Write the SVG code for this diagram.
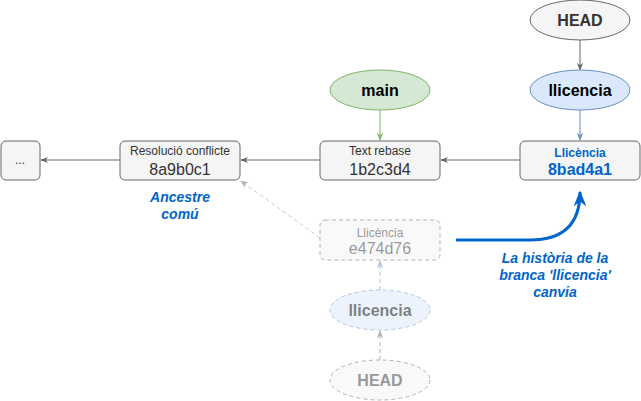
<svg xmlns="http://www.w3.org/2000/svg" width="641" height="401" viewBox="0 0 641 401">
<style>
text{font-family:"Liberation Sans",Arial,sans-serif;text-anchor:middle}
.box{fill:#f5f5f5;stroke:#666;stroke-width:1}
.s{font-size:12px;fill:#333}
.h{font-size:16px;fill:#333}
.b{font-size:16px;font-weight:bold}
.note{font-size:14px;font-weight:bold;font-style:italic;fill:#0066CC}
.c{fill:none;stroke-width:1}
.faded{opacity:0.5}
</style>
<defs>
<marker id="ag" viewBox="0 0 10 10" refX="9" refY="5" markerWidth="8" markerHeight="8" markerUnits="userSpaceOnUse" orient="auto"><path d="M0,1 L10,5 L0,9 L3,5 Z" fill="#666"/></marker>
<marker id="agr" viewBox="0 0 10 10" refX="9" refY="5" markerWidth="8" markerHeight="8" markerUnits="userSpaceOnUse" orient="auto"><path d="M0,1 L10,5 L0,9 L3,5 Z" fill="#82b366"/></marker>
<marker id="abl" viewBox="0 0 10 10" refX="9" refY="5" markerWidth="8" markerHeight="8" markerUnits="userSpaceOnUse" orient="auto"><path d="M0,1 L10,5 L0,9 L3,5 Z" fill="#6c8ebf"/></marker>
<marker id="abig" viewBox="0 0 10 10" refX="9" refY="5" markerWidth="16" markerHeight="16" markerUnits="userSpaceOnUse" orient="auto"><path d="M0,1 L10,5 L0,9 L3,5 Z" fill="#0066CC"/></marker>
</defs>
<g id="connectors">
<line class="c" x1="520" y1="160" x2="441" y2="160" stroke="#666" marker-end="url(#ag)"/>
<line class="c" x1="320" y1="160" x2="241" y2="160" stroke="#666" marker-end="url(#ag)"/>
<line class="c" x1="120" y1="160" x2="41" y2="160" stroke="#666" marker-end="url(#ag)"/>
<line class="c" x1="380" y1="110" x2="380" y2="140" stroke="#82b366" marker-end="url(#agr)"/>
<line class="c" x1="580" y1="110" x2="580" y2="140" stroke="#6c8ebf" marker-end="url(#abl)"/>
<line class="c" x1="580" y1="40" x2="580" y2="70" stroke="#666" marker-end="url(#ag)"/>
<g class="faded">
<line class="c" x1="320" y1="238" x2="241" y2="181" stroke="#999" stroke-dasharray="4 3" marker-end="url(#ag)"/>
<line class="c" x1="380" y1="290" x2="380" y2="261" stroke="#6c8ebf" stroke-dasharray="4 3" marker-end="url(#abl)"/>
<line class="c" x1="380" y1="360" x2="380" y2="331" stroke="#666" stroke-dasharray="4 3" marker-end="url(#ag)"/>
</g>
<path d="M456,240 L530,240 Q580,240 580,192" fill="none" stroke="#0066CC" stroke-width="3" marker-end="url(#abig)"/>
</g>
<g id="dots">
<rect class="box" x="1" y="141" width="39" height="39" rx="5"/>
<text class="s" x="20" y="164">...</text>
</g>
<g id="n8a9b0c1">
<rect class="box" x="120" y="141" width="120" height="39" rx="5"/>
<text class="s" x="180" y="155">Resolució conflicte</text>
<text class="h" x="180" y="175">8a9b0c1</text>
</g>
<g id="n1b2c3d4">
<rect class="box" x="320" y="141" width="120" height="39" rx="5"/>
<text class="s" x="380" y="155">Text rebase</text>
<text class="h" x="380" y="175">1b2c3d4</text>
</g>
<g id="n8bad4a1">
<rect class="box" x="520" y="141" width="120" height="39" rx="5"/>
<text x="580" y="157" style="font-size:12px;font-weight:bold;fill:#0066CC">Llicència</text>
<text x="580" y="175" style="font-size:16px;font-weight:bold;fill:#0066CC">8bad4a1</text>
</g>
<g id="main">
<ellipse cx="380" cy="90" rx="50" ry="20" fill="#d5e8d4" stroke="#82b366"/>
<text class="b" x="380" y="96" fill="#000">main</text>
</g>
<g id="llicencia">
<ellipse cx="580" cy="90" rx="50" ry="20" fill="#dae8fc" stroke="#6c8ebf"/>
<text class="b" x="580" y="96" fill="#000">llicencia</text>
</g>
<g id="head">
<ellipse cx="580" cy="20" rx="50" ry="20" fill="#f5f5f5" stroke="#666"/>
<text class="b" x="580" y="26" fill="#333">HEAD</text>
</g>
<g id="ne474d76" class="faded">
<rect class="box" x="320" y="220" width="120" height="40" rx="5" stroke-dasharray="4 3"/>
<text class="s" x="380" y="237">Llicència</text>
<text class="h" x="380" y="254">e474d76</text>
</g>
<g id="llicencia-old" class="faded">
<ellipse cx="380" cy="310" rx="50" ry="20" fill="#dae8fc" stroke="#6c8ebf" stroke-dasharray="4 3"/>
<text class="b" x="380" y="316" fill="#000">llicencia</text>
</g>
<g id="head-old" class="faded">
<ellipse cx="380" cy="380" rx="50" ry="20" fill="#f5f5f5" stroke="#666" stroke-dasharray="4 3"/>
<text class="b" x="380" y="386" fill="#333">HEAD</text>
</g>
<g id="notes">
<text class="note" x="180" y="202">Ancestre</text>
<text class="note" x="180" y="219">comú</text>
<text class="note" x="555" y="263">La història de la</text>
<text class="note" x="555" y="280">branca 'llicencia'</text>
<text class="note" x="555" y="297">canvia</text>
</g>
</svg>
